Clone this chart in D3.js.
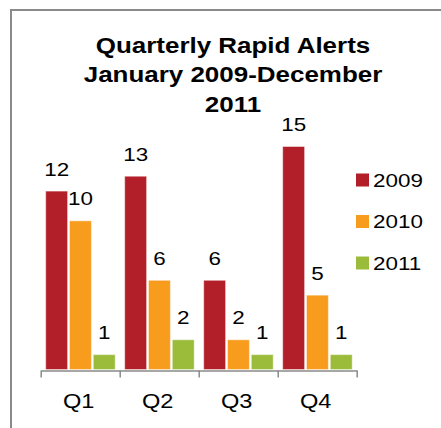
<!DOCTYPE html>
<html>
<head>
<meta charset="utf-8">
<script src="https://cdn.jsdelivr.net/npm/d3@7"></script>
<style>
  body { margin: 0; background: #fff; }
  text { font-family: "Liberation Sans", Arial, sans-serif; }
</style>
</head>
<body>
<div id="chart"></div>
<script>
// data
var quarters = ["Q1", "Q2", "Q3", "Q4"]
var years = ["2009", "2010", "2011"]
var values2009 = [12, 13, 6, 15]
var values2010 = [10, 6, 2, 5]
var values2011 = [1, 2, 1, 1]
var titleLines = ["Quarterly Rapid Alerts", "January 2009-December", "2011"]

var colors = { "2009": "#B31F29", "2010": "#F89C1E", "2011": "#9BBB3B" }
var seriesValues = { "2009": values2009, "2010": values2010, "2011": values2011 }

var width = 441, height = 428
var stretch = 1.18 // text in the original is a bit wider than normal Arial

// put text at (x,y) with a horizontal stretch
function place(x, y) {
    return `translate(${x},${y}) scale(${stretch},1)`
}

let svg = d3.select("#chart")
    .append("svg")
    .attr("width", width)
    .attr("height", height)

// frame (only left and top edges visible)
svg.append("path")
    .attr("d", "M11,428 L11,10 L441,10")
    .style("fill", "none")
    .style("stroke", "#8a8a8a")
    .style("stroke-width", 2)

// title
svg.append("g").selectAll("text")
    .data(titleLines)
    .enter().append("text")
        .attr("transform", function(d, i) { return place(233, 52.5 + i * 29.5) })
        .style("text-anchor", "middle")
        .style("font-weight", "bold")
        .style("font-size", "22px")
        .text(function(d) { return d })

// scales
var x = d3.scaleBand()
    .domain(quarters)
    .range([40.7, 356.7])

var xInner = d3.scaleBand()
    .domain(years)
    .range([5, x.bandwidth() - 4.5])
    .paddingInner(0.08)

var y = d3.scaleLinear()
    .domain([0, 15])
    .range([369.5, 146.5])

// bars
let groups = svg.append("g")
    .selectAll("g")
    .data(quarters)
    .enter().append("g")
        .attr("transform", function(d) { return `translate(${x(d)},0)` })

groups.selectAll("rect")
    .data(function(q, i) { return years.map(function(yr) { return { year: yr, value: seriesValues[yr][i] } }) })
    .enter().append("rect")
        .attr("x", function(d) { return xInner(d.year) })
        .attr("y", function(d) { return y(d.value) })
        .attr("width", xInner.bandwidth())
        .attr("height", function(d) { return y(0) - y(d.value) })
        .style("fill", function(d) { return colors[d.year] })
        .style("stroke", "#fff")
        .style("stroke-opacity", 0.45)
        .style("stroke-width", 1)

// value labels
groups.selectAll("text")
    .data(function(q, i) { return years.map(function(yr) { return { year: yr, value: seriesValues[yr][i] } }) })
    .enter().append("text")
        .attr("transform", function(d) { return place(xInner(d.year) + xInner.bandwidth() / 2, y(d.value) - 15.5) })
        .style("text-anchor", "middle")
        .style("font-size", "19px")
        .text(function(d) { return d.value })

// x axis: ticks sit between the quarters
var xEdges = d3.scaleLinear()
    .domain([0, quarters.length])
    .range(x.range())

let axis = svg.append("g")
    .attr("transform", `translate(0,${370.5})`)
    .call(d3.axisBottom(xEdges)
        .tickValues(d3.range(quarters.length + 1))
        .tickSize(7)
        .tickSizeOuter(0)
        .tickFormat(""))
axis.selectAll("path, line")
    .style("stroke", "#8a8a8a")
    .style("stroke-width", 1.5)

svg.append("g").selectAll("text")
    .data(quarters)
    .enter().append("text")
        .attr("transform", function(d) { return place(x(d) + x.bandwidth() / 2 - 1.5, 407.5) })
        .style("text-anchor", "middle")
        .style("font-size", "20px")
        .text(function(d) { return d })

// legend
let legend = svg.append("g")
    .selectAll("g")
    .data(years)
    .enter().append("g")
        .attr("transform", function(d, i) { return `translate(356,${173.5 + i * 41.5})` })

legend.append("rect")
    .attr("width", 13)
    .attr("height", 13)
    .style("fill", function(d) { return colors[d] })

legend.append("text")
    .attr("transform", place(17, 13.3))
    .style("font-size", "19px")
    .text(function(d) { return d })
</script>
</body>
</html>
